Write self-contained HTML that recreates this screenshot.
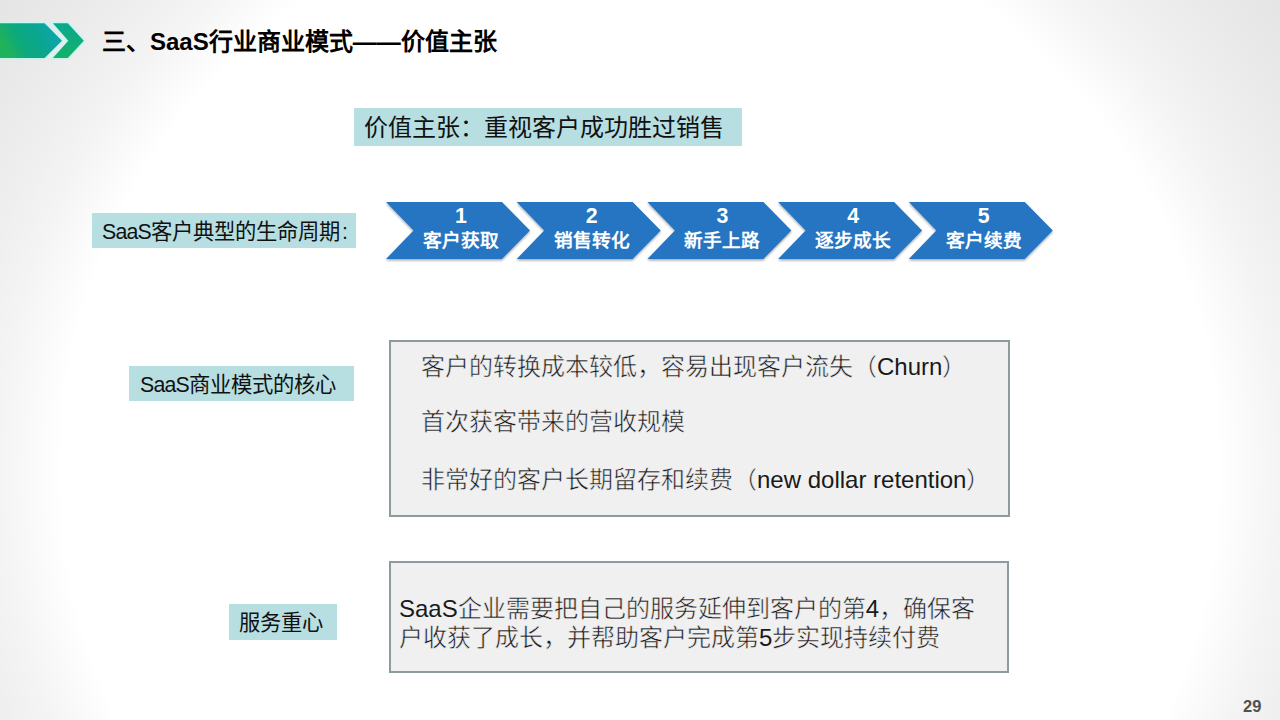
<!DOCTYPE html>
<html lang="zh-CN">
<head>
<meta charset="utf-8">
<style>
html,body{margin:0;padding:0;}
body{width:1280px;height:720px;overflow:hidden;position:relative;
  font-family:"Liberation Sans",sans-serif;color:#000;
  background:radial-gradient(circle at 640px 470px, #ffffff 0px, #ffffff 578px, #f4f4f4 640px, #efefef 680px, #e9e9e9 740px, #e4e4e4 800px);}
.abs{position:absolute;white-space:nowrap;}
.lbl{position:absolute;background:#b7dee1;font-size:21.33px;line-height:35px;color:#111;white-space:nowrap;}
.box{position:absolute;background:#f0f0f1;border:2px solid #8c9c9e;box-sizing:border-box;}
.bt{position:absolute;font-size:24px;color:#1a1a1a;-webkit-text-stroke:0.5px #f0f0f1;white-space:nowrap;line-height:28px;}
.chev{position:absolute;top:0;left:0;}
.l{-webkit-text-stroke:0;}
.ct{position:absolute;color:#fff;font-weight:bold;text-align:center;width:144px;white-space:nowrap;}
</style>
</head>
<body>
<!-- title icon -->
<svg class="abs" style="left:0;top:0" width="100" height="80" viewBox="0 0 100 80">
  <defs>
    <linearGradient id="g1" x1="0" y1="0.3" x2="1" y2="0">
      <stop offset="0" stop-color="#20b25a"/>
      <stop offset="0.25" stop-color="#0da97c"/>
      <stop offset="0.55" stop-color="#0aa68f"/>
      <stop offset="0.85" stop-color="#0ea5b0"/>
      <stop offset="1" stop-color="#13a3c4"/>
    </linearGradient>
    <linearGradient id="g2" x1="0" y1="0" x2="0" y2="1">
      <stop offset="0" stop-color="#0aa88f"/>
      <stop offset="1" stop-color="#15b168"/>
    </linearGradient>
  </defs>
  <g stroke="#c6f6f0" stroke-width="3" stroke-linejoin="miter" style="paint-order:stroke fill">
    <polygon points="-2,23.3 44.6,23.3 62,40.7 44.6,58 -2,58" fill="url(#g1)"/>
    <polygon points="52.9,23.3 67.8,23.3 83.8,40.7 67.8,58 52.9,58 68.3,40.7" fill="url(#g2)"/>
  </g>
</svg>
<div class="abs" style="left:102px;top:27px;font-size:24px;font-weight:bold;line-height:30px;">三、SaaS行业商业模式——价值主张</div>

<!-- value proposition -->
<div class="lbl" style="left:354px;top:108px;width:388px;height:38px;font-size:24px;line-height:38px;"><span style="position:absolute;left:10px;top:1px">价值主张：重视客户成功胜过销售</span></div>

<!-- lifecycle -->
<div class="lbl" style="left:92px;top:213px;width:264px;height:35px;"><span style="position:absolute;left:10px;top:2px"><span style="letter-spacing:-0.8px">SaaS</span>客户典型的生命周期<span style="margin-left:2px">:</span></span></div>

<svg class="abs" style="left:380px;top:195px;overflow:visible" width="690" height="75">
  <defs>
    <filter id="sh" x="-10%" y="-10%" width="120%" height="130%">
      <feDropShadow dx="0" dy="1.5" stdDeviation="1.2" flood-color="#000" flood-opacity="0.35"/>
    </filter>
  </defs>
  <g fill="#2775c3" filter="url(#sh)">
    <polygon points="6,7 122,7 150,35.5 122,64 6,64 33.5,35.5"/>
    <polygon points="136.7,7 252.7,7 280.7,35.5 252.7,64 136.7,64 164.2,35.5"/>
    <polygon points="267.4,7 383.4,7 411.4,35.5 383.4,64 267.4,64 294.9,35.5"/>
    <polygon points="398.1,7 514.1,7 542.1,35.5 514.1,64 398.1,64 425.6,35.5"/>
    <polygon points="528.8,7 644.8,7 672.8,35.5 644.8,64 528.8,64 556.3,35.5"/>
  </g>
</svg>
<div class="ct" style="left:389.0px;top:205px;font-size:21.33px;line-height:22px;">1</div>
<div class="ct" style="left:389.0px;top:229px;font-size:18.67px;line-height:24px;">客户获取</div>
<div class="ct" style="left:519.7px;top:205px;font-size:21.33px;line-height:22px;">2</div>
<div class="ct" style="left:519.7px;top:229px;font-size:18.67px;line-height:24px;">销售转化</div>
<div class="ct" style="left:650.4px;top:205px;font-size:21.33px;line-height:22px;">3</div>
<div class="ct" style="left:650.4px;top:229px;font-size:18.67px;line-height:24px;">新手上路</div>
<div class="ct" style="left:781.1px;top:205px;font-size:21.33px;line-height:22px;">4</div>
<div class="ct" style="left:781.1px;top:229px;font-size:18.67px;line-height:24px;">逐步成长</div>
<div class="ct" style="left:911.8px;top:205px;font-size:21.33px;line-height:22px;">5</div>
<div class="ct" style="left:911.8px;top:229px;font-size:18.67px;line-height:24px;">客户续费</div>

<!-- core -->
<div class="lbl" style="left:129px;top:366px;width:225px;height:35px;"><span style="position:absolute;left:11px;top:2px"><span style="letter-spacing:-0.8px">SaaS</span>商业模式的核心</span></div>
<div class="box" style="left:389px;top:340px;width:621px;height:177px;"></div>
<div class="bt" style="left:421px;top:353px;">客户的转换成本较低，容易出现客户流失（<span class="l">Churn</span>）</div>
<div class="bt" style="left:421px;top:408px;">首次获客带来的营收规模</div>
<div class="bt" style="left:421px;top:466px;">非常好的客户长期留存和续费（<span class="l">new dollar retention</span>）</div>

<!-- service -->
<div class="lbl" style="left:229px;top:604px;width:108px;height:36px;line-height:36px;"><span style="position:absolute;left:10px;top:1px">服务重心</span></div>
<div class="box" style="left:389px;top:561px;width:620px;height:112px;"></div>
<div class="bt" style="left:399px;top:593.5px;line-height:29.5px;"><span class="l">SaaS</span>企业需要把自己的服务延伸到客户的第<span class="l">4</span>，确保客<br>户收获了成长，并帮助客户完成第<span class="l">5</span>步实现持续付费</div>

<div class="abs" style="left:1243px;top:696.5px;font-size:16.5px;font-weight:bold;color:#505050;">29</div>
</body>
</html>
